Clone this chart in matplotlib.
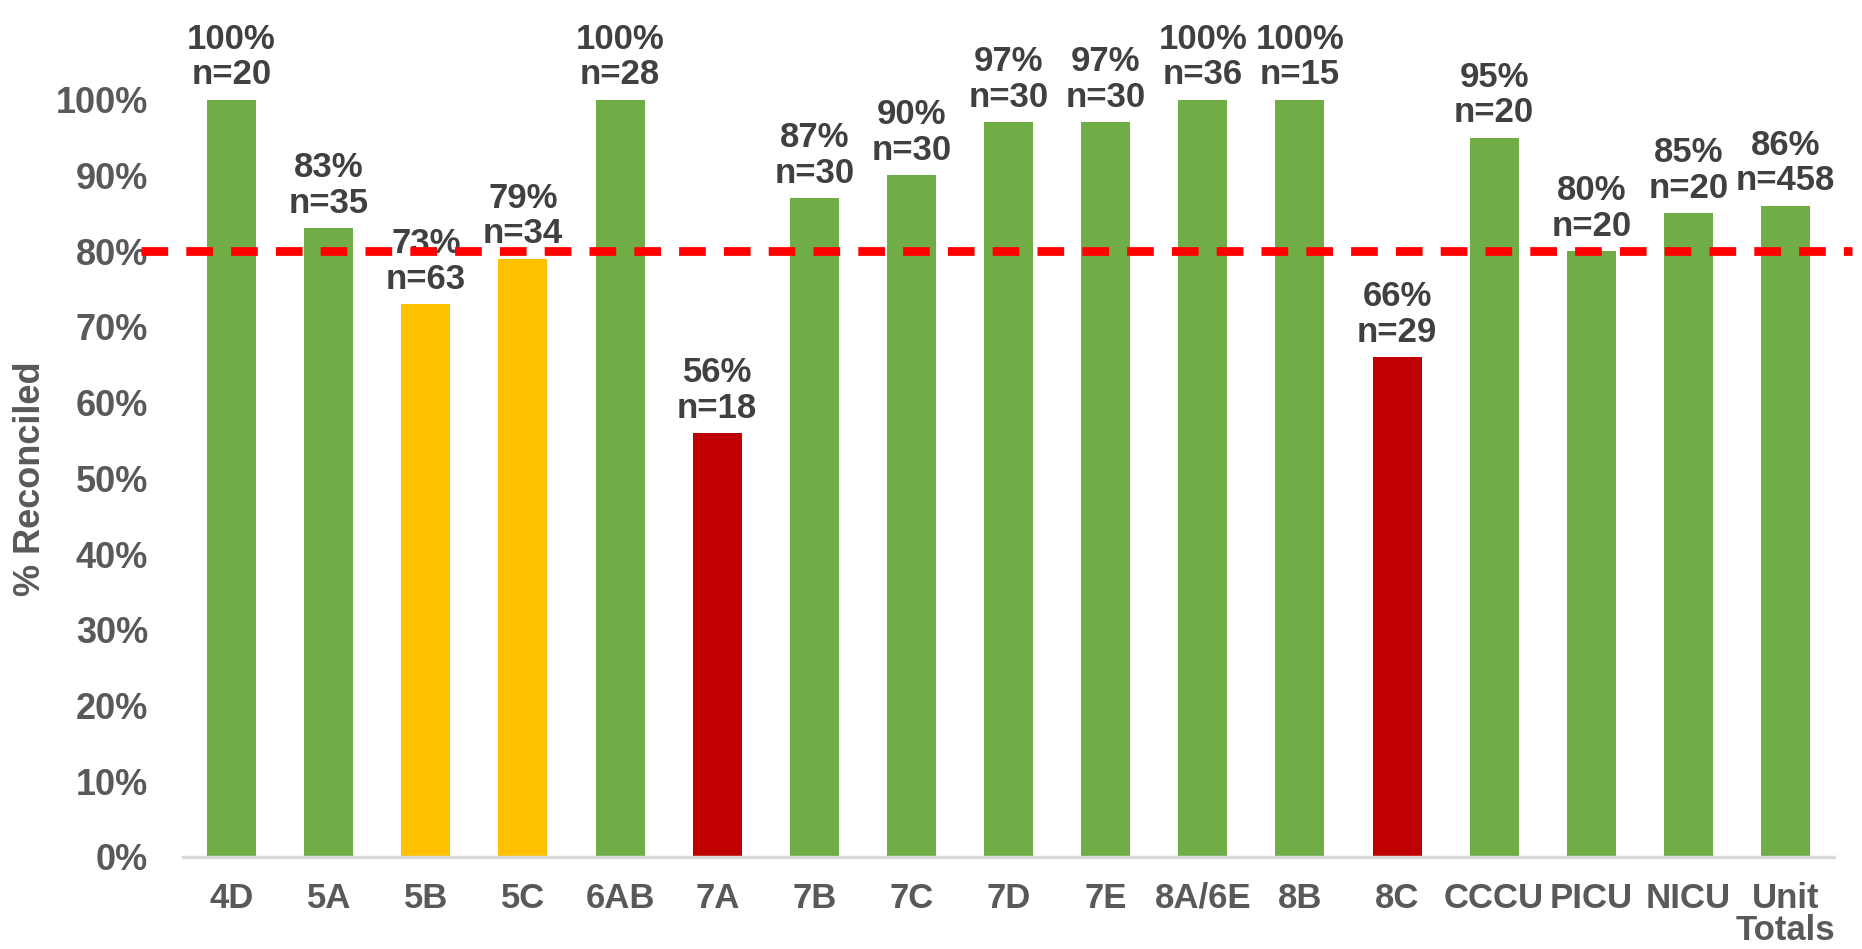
import numpy as np
import matplotlib.pyplot as plt

units = ["4D", "5A", "5B", "5C", "6AB", "7A", "7B", "7C", "7D", "7E",
         "8A/6E", "8B", "8C", "CCCU", "PICU", "NICU", "Unit\nTotals"]
pct_reconciled = [100, 83, 73, 79, 100, 56, 87, 90, 97, 97,
                  100, 100, 66, 95, 80, 85, 86]
n_charts = [20, 35, 63, 34, 28, 18, 30, 30, 30, 30,
            36, 15, 29, 20, 20, 20, 458]
goal = 80

GREEN = "#70AD47"
YELLOW = "#FFC000"
RED = "#C00000"

plt.rcParams['font.family'] = ['Liberation Sans', 'DejaVu Sans']
plt.rcParams['font.weight'] = 'bold'

fig = plt.figure(figsize=(18.62, 9.49), dpi=100)
ax = fig.add_axes([0.0983, 0.097, 0.8867, 0.798])

vals = np.array(pct_reconciled) / 100.0
colors = [GREEN if v >= 80 else (YELLOW if v >= 70 else RED) for v in pct_reconciled]
x = np.arange(len(units))
bars = ax.bar(x, vals, width=0.505, color=colors, zorder=2)

for b, p, n in zip(bars, pct_reconciled, n_charts):
    ax.annotate("%d%%\nn=%d" % (p, n), (b.get_x() + b.get_width() / 2, b.get_height()),
                xytext=(0, 6), textcoords="offset points", ha="center", va="bottom",
                fontsize=25, fontweight="bold", color="#404040", linespacing=1.1,
                annotation_clip=False)

# goal line runs past the plot area on both sides
ax.axhline(goal / 100.0, xmin=-0.0254, xmax=1.011, color="#FF0000", lw=6.3,
           linestyle=(0, (3.05, 2.07)), dash_capstyle="butt", clip_on=False, zorder=3)

ax.set_xlim(-0.5, len(units) - 0.5)
ax.set_ylim(0, 1.0)
ax.set_yticks(np.arange(0, 1.01, 0.1))
ax.set_yticklabels(["%d%%" % t for t in range(0, 101, 10)])
ax.set_xticks(x)
ax.set_xticklabels(units, linespacing=0.95)
ax.tick_params(axis="y", length=0, pad=25, labelsize=26, labelcolor="#595959")
ax.tick_params(axis="x", length=0, pad=18, labelsize=25, labelcolor="#595959")
for lab in ax.get_xticklabels() + ax.get_yticklabels():
    lab.set_fontweight("bold")

for s in ["top", "right", "left"]:
    ax.spines[s].set_visible(False)
ax.spines["bottom"].set_color("#D9D9D9")
ax.spines["bottom"].set_linewidth(2.5)

ax.set_ylabel("% Reconciled", fontsize=26, fontweight="bold", color="#595959", labelpad=6)

fig.savefig("out.png", dpi=100)
